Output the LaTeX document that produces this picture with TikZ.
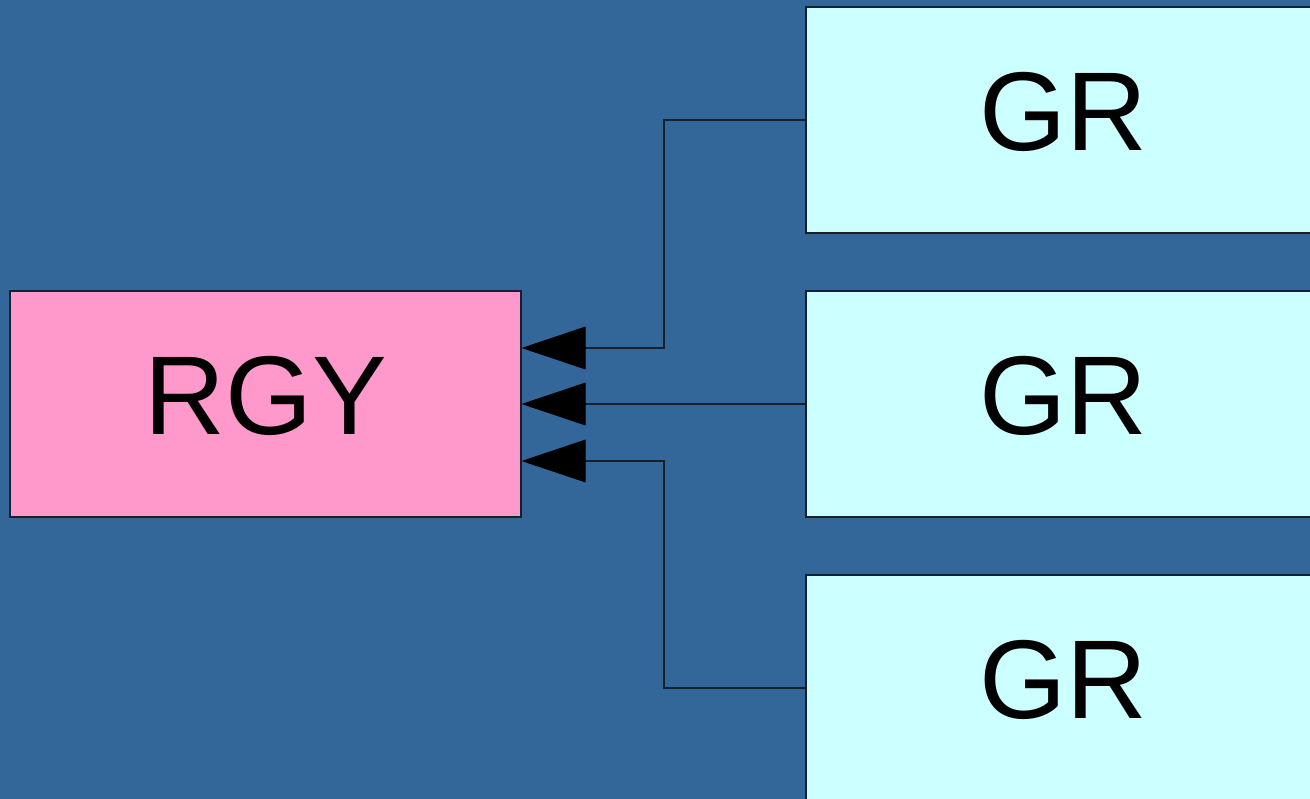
\documentclass[tikz,border=0pt]{standalone}
\usepackage{fontspec}
\setmainfont{Liberation Sans}
\usetikzlibrary{arrows.meta,calc}
\definecolor{bgblue}{HTML}{336699}
\definecolor{pinkfill}{HTML}{FF99CC}
\definecolor{cyanfill}{HTML}{CCFFFF}
\definecolor{edge}{HTML}{15202B}
\begin{document}
\begin{tikzpicture}[x=0.75pt,y=-0.75pt,
  box/.style={draw=edge,line width=0.8pt,rectangle,inner sep=0pt,
    minimum height=226*0.75pt,font=\fontsize{84}{96}\selectfont,
    text height=61pt,text depth=16pt},
  rbox/.style={box,fill=pinkfill,minimum width=511*0.75pt},
  gbox/.style={box,fill=cyanfill,minimum width=514*0.75pt},
  conn/.style={draw=edge,line width=0.8pt,-{Triangle[length=48pt,width=32pt,color=black]}}]
\useasboundingbox (0,0) rectangle (1310,799);
\clip (0,0) rectangle (1310,799);
\fill[bgblue] (0,0) rectangle (1310,799);
\node[rbox] (r) at (265.5,404) {RGY};
\node[gbox] (g1) at (1063,120) {GR};
\node[gbox] (g2) at (1063,404) {GR};
\node[gbox] (g3) at (1063,688) {GR};
\coordinate (t1) at ($(r.east)+(0,-56)$);
\coordinate (t3) at ($(r.east)+(0,57)$);
\coordinate (k1) at (664,120);
\coordinate (k3) at (664,688);
\draw[conn] (g1.west) -- (k1) |- (t1);
\draw[conn] (g2.west) -- (r.east);
\draw[conn] (g3.west) -- (k3) |- (t3);
\end{tikzpicture}
\end{document}
